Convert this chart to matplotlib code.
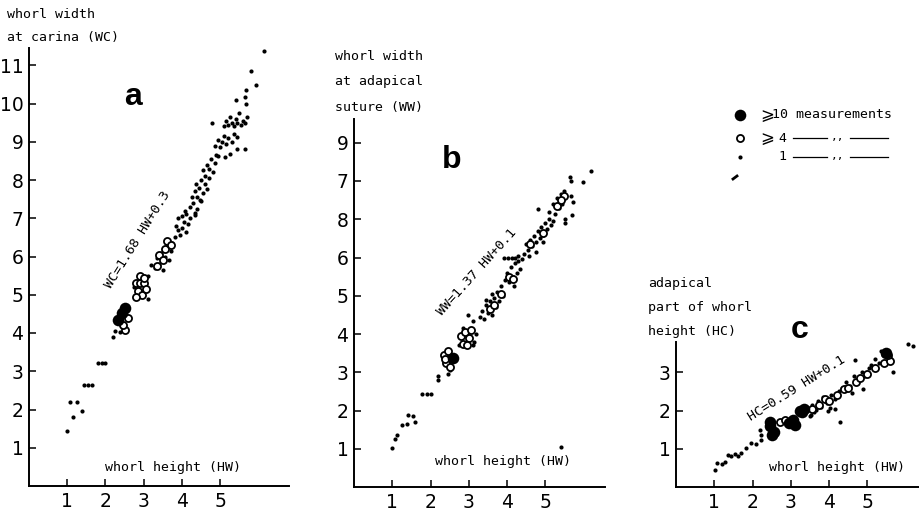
import matplotlib
matplotlib.use('Agg')
import matplotlib.pyplot as plt
from matplotlib.lines import Line2D

# ---- panel a : whorl width at carina vs whorl height
a_dot_x = [1.00, 1.15, 1.07, 1.26, 1.39, 1.45, 1.55, 1.65, 1.80, 1.90, 2.00,
           2.20, 2.25, 2.38, 2.50, 2.75, 3.10, 3.10, 3.20,
           3.30, 3.35, 3.40, 3.45, 3.50, 3.55, 3.60, 3.65, 3.70, 3.75, 3.90,
           3.82, 3.85, 3.90, 3.95, 4.00, 4.00, 4.05, 4.10, 4.10, 4.15, 4.20, 4.08, 4.35,
           4.22, 4.25, 4.30, 4.35, 4.40, 4.40, 4.45, 4.50, 4.55, 4.60, 4.48, 4.35,
           4.50, 4.55, 4.60, 4.65, 4.70, 4.70, 4.75, 4.80, 4.85, 4.90, 4.37, 4.65,
           4.85, 4.95, 5.00, 5.05, 5.10, 5.15, 5.20, 5.30, 5.35, 5.44, 5.65, 5.44,
           5.26, 5.13, 4.95, 4.79,
           5.10, 5.15, 5.20, 5.25, 5.30, 5.35, 5.40, 5.45, 5.50, 5.55, 5.60, 5.65, 5.70,
           5.65, 5.42, 5.68, 5.67, 5.93, 5.81, 6.15]
a_dot_y = [1.45, 1.80, 2.19, 2.19, 1.96, 2.64, 2.64, 2.64, 3.21, 3.21, 3.21,
           3.89, 4.05, 4.02, 4.72, 5.20, 5.50, 4.90, 5.77,
           5.70, 5.95, 5.80, 6.10, 5.65, 6.00, 6.25, 5.90, 6.15, 6.35, 6.68,
           6.50, 6.80, 7.00, 6.55, 6.75, 7.05, 6.90, 6.65, 7.10, 6.85, 7.00, 7.20, 7.08,
           7.30, 7.55, 7.40, 7.70, 7.25, 7.55, 7.80, 7.45, 7.65, 7.90, 7.47, 7.13,
           8.00, 8.25, 8.10, 8.40, 8.05, 8.30, 8.55, 8.20, 8.45, 8.65, 7.90, 7.77,
           8.90, 9.05, 8.85, 9.00, 9.15, 8.95, 9.10, 9.00, 9.20, 9.12, 8.80, 8.80,
           8.69, 8.59, 8.62, 9.49,
           9.40, 9.55, 9.45, 9.65, 9.50, 9.40, 9.60, 9.50, 9.75, 9.45, 9.55, 9.50, 9.65,
           10.16, 10.08, 10.00, 10.36, 10.49, 10.84, 11.38]
a_open_x = [2.60, 2.52, 2.45, 2.80, 2.90, 3.00, 2.85, 2.95, 3.05, 2.80, 2.90, 3.00,
            3.35, 3.40, 3.50, 3.55, 3.60, 3.70]
a_open_y = [4.39, 4.07, 4.20, 5.30, 5.30, 5.30, 5.10, 5.00, 5.15, 4.95, 5.50, 5.45,
            5.75, 6.05, 5.90, 6.20, 6.40, 6.30]
a_big_x = [2.43, 2.33, 2.51]
a_big_y = [4.51, 4.35, 4.65]

# ---- panel b : whorl width at adapical suture vs whorl height
b_dot_x = [0.99, 1.07, 1.13, 1.25, 1.38, 1.42, 1.55, 1.60, 1.78, 1.90, 2.02,
           2.19, 2.19, 2.47, 2.50, 2.75, 2.85, 2.95, 3.15, 3.20, 3.10, 2.98, 3.10,
           3.30, 3.35, 3.40, 3.45, 3.50, 3.55, 3.60, 3.65, 3.70, 3.75, 3.80, 3.85,
           3.62, 3.45, 3.90,
           3.95, 4.00, 4.05, 4.10, 4.15, 4.20, 4.25, 4.30, 4.35, 4.40, 4.18,
           3.92, 4.02, 4.12, 4.22, 4.30,
           4.45, 4.50, 4.55, 4.60, 4.65, 4.70, 4.75, 4.80, 4.85, 4.90, 4.95, 5.00,
           5.05, 5.10, 5.15, 4.58, 4.75, 4.95, 5.20, 4.82,
           5.10, 5.20, 5.25, 5.30, 5.35, 5.40, 5.45, 5.50,
           5.52, 5.52, 5.71, 5.65, 5.67, 5.99, 6.20, 5.68, 5.72, 5.41]
b_dot_y = [1.01, 1.25, 1.36, 1.62, 1.64, 1.88, 1.86, 1.71, 2.42, 2.42, 2.42,
           2.90, 2.80, 2.95, 3.05, 3.70, 4.15, 4.05, 3.80, 4.00, 3.70, 4.49, 4.35,
           4.45, 4.60, 4.40, 4.75, 4.55, 4.85, 4.50, 4.95, 4.70, 5.10, 4.85, 5.25,
           5.05, 4.90, 5.00,
           5.40, 5.60, 5.35, 5.75, 5.50, 5.85, 5.60, 5.90, 5.70, 5.95, 5.25,
           6.00, 6.00, 6.00, 6.00, 6.05,
           6.10, 6.35, 6.20, 6.45, 6.30, 6.55, 6.40, 6.70, 6.50, 6.80, 6.60, 6.90,
           6.75, 7.00, 6.85, 6.05, 6.15, 6.40, 6.95, 7.28,
           7.20, 7.40, 7.15, 7.55, 7.30, 7.65, 7.40, 7.75,
           7.00, 6.90, 7.10, 8.10, 8.00, 7.97, 8.26, 7.60, 7.45, 1.04]
b_open_x = [2.35, 2.40, 2.45, 2.50, 2.38, 2.80, 2.90, 3.00, 2.85, 3.05, 2.95,
            3.55, 3.65, 3.85, 4.05, 4.15, 4.60, 4.95, 5.30, 5.50, 5.40]
b_open_y = [3.45, 3.25, 3.55, 3.15, 3.35, 3.95, 4.05, 3.90, 3.75, 4.10, 3.70,
            4.65, 4.75, 5.05, 5.50, 5.45, 6.35, 6.65, 7.35, 7.60, 7.50]
b_big_x = [2.60]
b_big_y = [3.37]

# ---- panel c : adapical part of whorl height vs whorl height
c_dot_x = [1.02, 1.06, 1.19, 1.28, 1.37, 1.45, 1.53, 1.61, 1.70, 1.83, 1.96, 2.09,
           2.22, 2.22, 2.19,
           3.45, 3.55, 3.60, 3.70, 3.80, 3.85, 3.95, 4.05, 4.15, 4.25, 3.97, 4.15,
           3.50, 4.30, 3.54, 3.67, 4.02,
           4.35, 4.45, 4.55, 4.65, 4.75, 4.85, 4.95, 5.05, 4.60, 4.90, 4.67,
           5.10, 5.20, 5.30, 5.40, 5.50, 5.55, 5.60, 5.35, 5.67,
           5.93, 6.06, 6.19]
c_dot_y = [0.44, 0.62, 0.60, 0.66, 0.84, 0.81, 0.86, 0.81, 0.90, 1.01, 1.14, 1.12,
           1.23, 1.36, 1.49,
           2.05, 2.15, 1.95, 2.25, 2.10, 2.35, 2.20, 2.40, 2.30, 2.50, 2.00, 2.05,
           1.85, 1.70, 1.88, 2.01, 2.06,
           2.60, 2.75, 2.65, 2.90, 2.80, 3.00, 2.90, 3.10, 2.45, 2.55, 3.32,
           3.20, 3.35, 3.25, 3.45, 3.30, 3.55, 3.40, 3.55, 3.01,
           3.89, 3.73, 3.68]
c_open_x = [2.72, 2.85, 3.55, 3.75, 3.90, 4.00, 4.20, 4.40, 4.50, 4.70, 4.80,
            5.00, 5.20, 5.45, 5.60, 5.55]
c_open_y = [1.70, 1.75, 2.05, 2.15, 2.30, 2.25, 2.40, 2.55, 2.60, 2.75, 2.85,
            2.95, 3.10, 3.25, 3.30, 3.45]
c_big_x = [2.45, 2.55, 2.50, 2.45, 2.95, 3.10, 3.05, 3.25, 3.35, 3.30, 5.50]
c_big_y = [1.60, 1.45, 1.35, 1.70, 1.68, 1.62, 1.75, 2.00, 2.05, 1.95, 3.50]

hw_ticks = [1, 2, 3, 4, 5]
a_yticks = list(range(1, 12))
b_yticks = list(range(1, 10))
b_ylabels = ['1', '2', '3', '4', '5', '6', '8', '7', '9']   # as printed
c_yticks = [1, 2, 3]

W, H = 919, 512
PX = 38.25   # pixels per data unit
mono = ['DejaVu Sans Mono', 'DejaVu Sans']

fig = plt.figure(figsize=(W / 100, H / 100), dpi=100)


def make_axes(left, base, xmax, ymax):
    return fig.add_axes([left / W, (H - base) / H, xmax * PX / W, ymax * PX / H])


def style(ax, xmax, ymax, yticks, ylabels=None):
    ax.set_xlim(0, xmax)
    ax.set_ylim(0, ymax)
    ax.spines['top'].set_visible(False)
    ax.spines['right'].set_visible(False)
    for s in ('left', 'bottom'):
        ax.spines[s].set_linewidth(1.4)
    ax.set_xticks(hw_ticks)
    ax.set_yticks(yticks)
    if ylabels is not None:
        ax.set_yticklabels(ylabels)
    ax.tick_params(direction='in', length=5, width=1.1, labelsize=13.5)
    ax.tick_params(axis='x', pad=4.5)
    ax.tick_params(axis='y', pad=4)
    ax.patch.set_alpha(0)


def draw(ax, dx, dy, ox, oy, bx, by):
    ax.scatter(dx, dy, s=9, c='black', linewidths=0, zorder=3)
    ax.scatter(ox, oy, s=26, facecolors='white', edgecolors='black',
               linewidths=1.3, zorder=4)
    ax.scatter(bx, by, s=70, c='black', linewidths=0, zorder=5)


ax_a = make_axes(29, 486, 6.8, 11.45)
style(ax_a, 6.8, 11.45, a_yticks)
draw(ax_a, a_dot_x, a_dot_y, a_open_x, a_open_y, a_big_x, a_big_y)

ax_b = make_axes(354, 487, 6.55, 9.63)
style(ax_b, 6.55, 9.63, b_yticks, b_ylabels)
draw(ax_b, b_dot_x, b_dot_y, b_open_x, b_open_y, b_big_x, b_big_y)

ax_c = make_axes(676, 487, 6.4, 3.8)
style(ax_c, 6.4, 3.8, c_yticks)
draw(ax_c, c_dot_x, c_dot_y, c_open_x, c_open_y, c_big_x, c_big_y)

# overlay in pixel coordinates for the labels and the key
ov = fig.add_axes([0, 0, 1, 1])
ov.set_xlim(0, W)
ov.set_ylim(H, 0)
ov.axis('off')
ov.patch.set_alpha(0)

fs = 9.5
for txt, x, y in [('whorl width', 7, 14), ('at carina (WC)', 7, 38),
                  ('whorl width', 335, 57), ('at adapical', 335, 82),
                  ('suture (WW)', 335, 107),
                  ('adapical', 648, 283), ('part of whorl', 648, 307),
                  ('height (HC)', 648, 332)]:
    ov.text(x, y, txt, family=mono, fontsize=fs, va='center', ha='left')

for x, y in [(173, 467), (503, 462), (837, 468)]:
    ov.text(x, y, 'whorl height (HW)', family=mono, fontsize=fs,
            va='center', ha='center')

for lab, x, y in [('a', 133, 97), ('b', 452, 160), ('c', 800, 330)]:
    ov.text(x, y, lab, family=['Liberation Sans', 'DejaVu Sans'],
            fontweight='bold', fontsize=23, va='center', ha='center')

ov.text(138, 240, 'WC=1.68 HW+0.3', family=mono, fontsize=fs, rotation=58,
        va='center', ha='center', rotation_mode='anchor')
ov.text(477, 272, 'WW=1.37 HW+0.1', family=mono, fontsize=fs, rotation=48,
        va='center', ha='center', rotation_mode='anchor')
ov.text(797, 388, 'HC=0.59 HW+0.1', family=mono, fontsize=fs, rotation=32,
        va='center', ha='center', rotation_mode='anchor')

# key
ov.scatter([740], [115], s=70, c='black', linewidths=0)
ov.scatter([740], [138], s=26, facecolors='white', edgecolors='black', linewidths=1.3)
ov.scatter([740], [157], s=9, c='black', linewidths=0)
ov.plot([733, 737], [179, 176], color='black', lw=2)
ov.text(760, 115, '\u2a7e', family=mono, fontsize=12, va='center', ha='left')
ov.text(772, 115, '10 measurements', family=mono, fontsize=fs, va='center', ha='left')
ov.text(760, 138, '\u2a7e', family=mono, fontsize=12, va='center', ha='left')
ov.text(778, 138, '4', family=mono, fontsize=fs, va='center', ha='left')
ov.text(778, 157, '1', family=mono, fontsize=fs, va='center', ha='left')
for y in (138, 157):
    ov.add_line(Line2D([793, 827], [y, y], color='black', lw=0.9))
    ov.add_line(Line2D([850, 888], [y, y], color='black', lw=0.9))
    ov.text(838, y - 1, ',,', family=mono, fontsize=8, va='center', ha='center')

fig.savefig('out.png', dpi=100)
